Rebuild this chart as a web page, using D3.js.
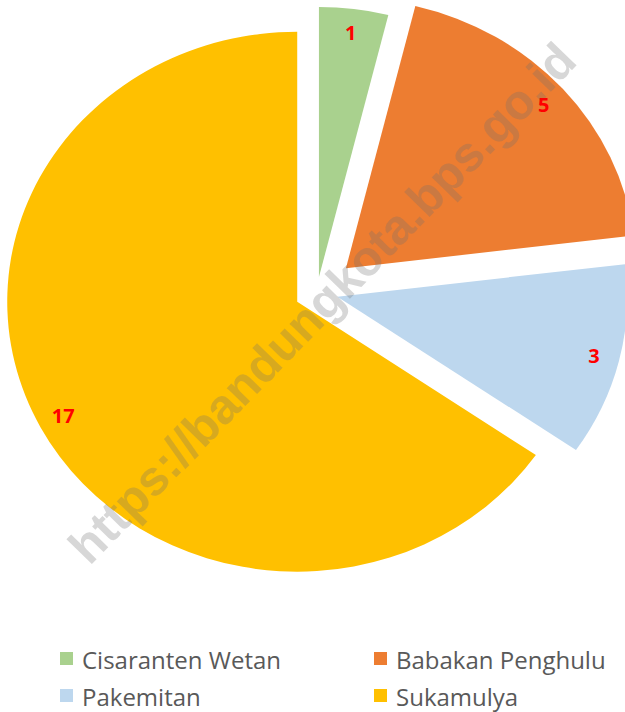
<!DOCTYPE html>
<html>
<head>
<meta charset="utf-8">
<script src="https://cdn.jsdelivr.net/npm/d3@7"></script>
<style>
  body { margin: 0; background: #fff; }
  svg { display: block; }
</style>
</head>
<body>
<svg width="625" height="712"></svg>
<script>
// data
var categories = ["Cisaranten Wetan", "Babakan Penghulu", "Pakemitan", "Sukamulya"];
var values = [1, 5, 3, 17];
var colors = ["#A9D18E", "#ED7D31", "#BDD7EE", "#FFC000"];

var svg = d3.select("svg"),
    width = +svg.attr("width"),
    height = +svg.attr("height");

// pie geometry (picture is a bit wider than tall)
var cx = 317, cy = 292, radius = 270, sx = 1.074;
var explode = [15, 36, 19.5, 20.8];
var labelR = 246;

var pie = d3.pie().sort(null).value(function(d) { return d; });
var arc = d3.arc().innerRadius(0).outerRadius(radius);

var slices = pie(values);

function sliceOrigin(d, i) {
    var mid = (d.startAngle + d.endAngle) / 2;
    return [cx + sx * explode[i] * Math.sin(mid), cy - explode[i] * Math.cos(mid)];
}

svg.append("g").attr("class", "slices")
    .selectAll("path")
    .data(slices)
    .enter()
    .append("path")
    .attr("transform", function(d, i) {
        var o = sliceOrigin(d, i);
        return "translate(" + o[0] + "," + o[1] + ") scale(" + sx + ",1)";
    })
    .attr("d", arc)
    .attr("fill", function(d, i) { return colors[i]; });

// watermark
svg.append("text")
    .attr("transform", "translate(322,303) rotate(-45.8)")
    .attr("text-anchor", "middle")
    .attr("dominant-baseline", "central")
    .style("font-family", "'Liberation Sans', Arial, sans-serif")
    .style("font-weight", "bold")
    .style("font-size", "49px")
    .attr("fill", "#6f6f6f")
    .attr("fill-opacity", 0.28)
    .text("https://bandungkota.bps.go.id");

// value labels
svg.append("g").attr("class", "labels")
    .selectAll("text")
    .data(slices)
    .enter()
    .append("text")
    .attr("x", function(d, i) {
        var o = sliceOrigin(d, i), mid = (d.startAngle + d.endAngle) / 2;
        return o[0] + sx * labelR * Math.sin(mid);
    })
    .attr("y", function(d, i) {
        var o = sliceOrigin(d, i), mid = (d.startAngle + d.endAngle) / 2;
        return o[1] - labelR * Math.cos(mid);
    })
    .attr("text-anchor", "middle")
    .attr("dominant-baseline", "central")
    .style("font-family", "'Open Sans', 'Noto Sans', sans-serif")
    .style("font-weight", "bold")
    .style("font-size", "20px")
    .attr("fill", "#FF0000")
    .text(function(d) { return d.data; });

// legend, two columns
var legend = svg.append("g").attr("class", "legend")
    .selectAll("g")
    .data(categories)
    .enter()
    .append("g")
    .attr("transform", function(d, i) {
        var col = i % 2, row = Math.floor(i / 2);
        return "translate(" + (60 + col * 314) + "," + (659 + row * 37) + ")";
    });

legend.append("rect")
    .attr("x", 0)
    .attr("y", -7)
    .attr("width", 13)
    .attr("height", 13)
    .attr("fill", function(d, i) { return colors[i]; });

legend.append("text")
    .attr("x", 22)
    .attr("y", 0)
    .attr("dominant-baseline", "central")
    .style("font-family", "'Open Sans', 'Noto Sans', sans-serif")
    .style("font-size", "24px")
    .attr("fill", "#595959")
    .text(function(d) { return d; });
</script>
</body>
</html>
